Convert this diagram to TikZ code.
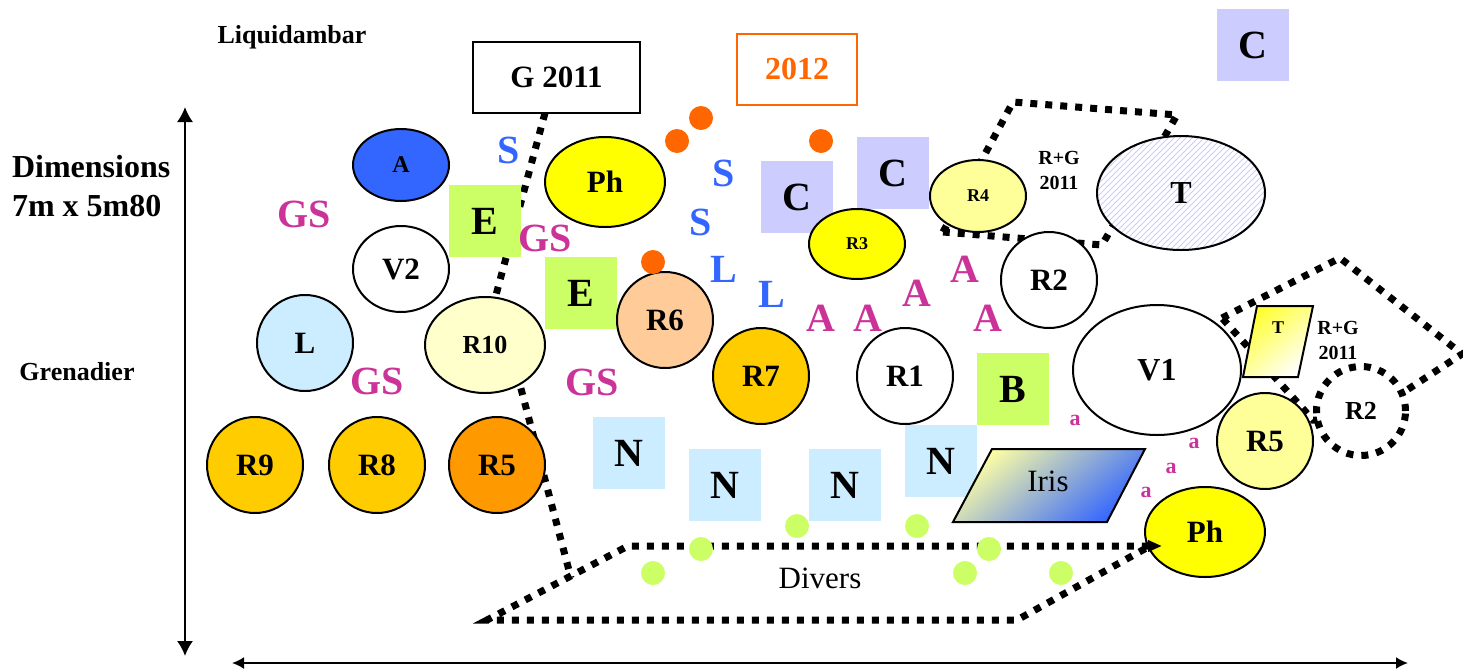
\documentclass[tikz,border=0pt]{standalone}
\usepackage{fontspec}
\setmainfont{Liberation Serif}
\usetikzlibrary{arrows.meta,shapes.geometric,patterns}
\definecolor{skyblue}{HTML}{3366FF}
\definecolor{plum}{HTML}{CC3399}
\definecolor{tangerine}{HTML}{FF6600}
\definecolor{gold}{HTML}{FFCC00}
\definecolor{amber}{HTML}{FF9900}
\definecolor{peach}{HTML}{FFCC99}
\definecolor{cream}{HTML}{FFFFCC}
\definecolor{butter}{HTML}{FFFF99}
\definecolor{lemon}{HTML}{FFFF00}
\definecolor{ice}{HTML}{CCECFF}
\definecolor{lime}{HTML}{CCFF66}
\definecolor{lilac}{HTML}{CCCCFF}
\newcommand{\fsz}[1]{\fontsize{#1}{#1}\selectfont}

\begin{document}
\begin{tikzpicture}[x=0.5pt, y=-0.5pt,
    plant/.style={draw, ellipse, line width=1pt, inner sep=0pt, font=\fsz{15.5}\bfseries},
    roundplant/.style={plant, minimum width=48pt, minimum height=48pt},
    bed/.style={rectangle, minimum size=36pt, inner sep=0pt, font=\fsz{20}\bfseries},
    hedge/.style={line width=3.5pt, dash pattern=on 3.5pt off 4pt},
    berry/.style={circle, fill=tangerine, minimum size=12pt, inner sep=0pt},
    bulb/.style={circle, fill=lime, minimum size=12pt, inner sep=0pt},
    tag/.style={font=\fsz{20}\bfseries},
    small/.style={font=\fsz{11}\bfseries, text=plum},
    note/.style={align=center, font=\fontsize{10}{12.5}\selectfont\bfseries}]
\useasboundingbox (0,0) rectangle (1463,670);

% axes
\node[font=\fsz{13}\bfseries] (liq) at (292,37) {Liquidambar};
\node[anchor=west, align=left, font=\fontsize{16}{19.5}\selectfont\bfseries] (dim) at (5,186) {Dimensions\\7m x 5m80};
\node[font=\fsz{13}\bfseries] (gren) at (77,372) {Grenadier};
\coordinate (vtop) at (185,107);
\coordinate (vbot) at (185,656);
\coordinate (hleft) at (232,663);
\coordinate (hright) at (1408,663);
\draw[line width=0.9pt, {Latex[length=7.5pt,width=8pt]}-{Latex[length=7.5pt,width=8pt]}] (vtop) -- (vbot);
\draw[line width=1pt, {Latex[length=6pt,width=6pt]}-{Latex[length=6pt,width=6pt]}] (hleft) -- (hright);

% hedges behind the plants
\draw[hedge] (545,113) -- (496,295) -- (520,385) -- (571,578);
\draw[hedge] (943,232) -- (1013,102) -- (1177,115) -- (1102,245) -- cycle;
\draw[hedge] (1222,318) -- (1340,258) -- (1462,354) -- (1361,420) -- (1313,420) -- cycle;

% beds
\node[bed, fill=lilac] (c1) at (1253,45) {C};
\node[bed, fill=lilac] (c2) at (797,197) {C};
\node[bed, fill=lilac] (c3) at (893,173) {C};
\node[bed, fill=lime] (e1) at (485,221) {E};
\node[bed, fill=lime] (e2) at (581,293) {E};
\node[bed, fill=lime] (b) at (1013,389) {B};
\node[bed, fill=ice] (n1) at (629,453) {N};
\node[bed, fill=ice] (n2) at (725,485) {N};
\node[bed, fill=ice] (n3) at (845,485) {N};
\node[bed, fill=ice] (n4) at (941,461) {N};

% labels in boxes
\node[draw, line width=1pt, minimum width=83.5pt, minimum height=35.5pt, font=\fsz{15.5}\bfseries] (g2011) at (556.5,77.5) {G 2011};
\node[draw=tangerine, line width=1pt, minimum width=60pt, minimum height=35.5pt, text=tangerine, font=\fsz{16}\bfseries] (y2012) at (797,69.5) {2012};

% plants
\node[plant, fill=skyblue, minimum width=48pt, minimum height=36pt, font=\fsz{12}\bfseries] (a) at (401,165) {A};
\node[plant, fill=white, minimum width=48pt, minimum height=43pt] (v2) at (401,269) {V2};
\node[roundplant, fill=ice] (l) at (305,343) {L};
\node[plant, fill=cream, minimum width=60pt, minimum height=48pt, font=\fsz{13}\bfseries] (r10) at (485,345) {R10};
\node[roundplant, fill=gold] (r9) at (255,465) {R9};
\node[roundplant, fill=gold] (r8) at (377,465) {R8};
\node[roundplant, fill=amber] (r5a) at (497,465) {R5};
\node[plant, fill=lemon, minimum width=60pt, minimum height=45pt] (ph1) at (605,182) {Ph};
\node[roundplant, fill=peach] (r6) at (665,320) {R6};
\node[roundplant, fill=gold] (r7) at (761,376) {R7};
\node[plant, fill=lemon, minimum width=48pt, minimum height=35pt, font=\fsz{9}\bfseries] (r3) at (857,244) {R3};
\node[plant, fill=butter, minimum width=48pt, minimum height=36pt, font=\fsz{9}\bfseries] (r4) at (978,196) {R4};
\node[roundplant, fill=white] (r1) at (905,376) {R1};
\node[roundplant, fill=white] (r2a) at (1049,280) {R2};
\node[plant, preaction={fill=white}, pattern=north east lines, pattern color=lilac, minimum width=84pt, minimum height=57pt, font=\fsz{16}\bfseries] (t) at (1181,193) {T};
\node[plant, fill=white, minimum width=84pt, minimum height=65pt, font=\fsz{16}\bfseries] (v1) at (1157,370) {V1};
\node[roundplant, fill=butter] (r5b) at (1265,441) {R5};
\node[circle, hedge, draw, fill=white, minimum size=44.5pt, inner sep=0pt, font=\fsz{13}\bfseries] (r2b) at (1361,411) {R2};
\node[plant, fill=lemon, minimum width=60pt, minimum height=45pt] (ph2) at (1205,532) {Ph};

% iris and small T
\draw[line width=1pt, top color=butter!90!white, bottom color=skyblue, shading angle=40] (992,449) -- (1145,449) -- (1107,522) -- (953,522) -- cycle;
\node[font=\fsz{15.5}] (iris) at (1048,481) {Iris};
\draw[line width=1pt, top color=lemon!80!white, bottom color=white, shading angle=40] (1257,306) -- (1313,306) -- (1298,377) -- (1243,377) -- cycle;
\node[font=\fsz{9}\bfseries] (tsmall) at (1278,328) {T};
\node[note] (rg1) at (1059,170) {R+G\\2011};
\node[note] (rg2) at (1338,340) {R+G\\2011};

% divers
\draw[hedge, {Triangle[length=7pt,width=5.5pt]}-] (1162,546) -- (628,546) -- (487,620) -- (1017,620) -- (1150,546);
\node[font=\fsz{15.5}] (divers) at (820,578) {Divers};

% dots
\node[berry] (o1) at (677,141) {};
\node[berry] (o2) at (701,118) {};
\node[berry] (o3) at (821,141) {};
\node[berry] (o4) at (653,262) {};
\node[bulb] (g1) at (797,526) {};
\node[bulb] (g2) at (917,526) {};
\node[bulb] (g3) at (701,549) {};
\node[bulb] (g4) at (989,549) {};
\node[bulb] (g5) at (653,573) {};
\node[bulb] (g6) at (965,573) {};
\node[bulb] (g7) at (1061,573) {};

% letters
\node[tag, text=skyblue] (s1) at (509,150) {S};
\node[tag, text=skyblue] (s2) at (724,173) {S};
\node[tag, text=skyblue] (s3) at (701,222) {S};
\node[tag, text=skyblue] (l1) at (724,269) {L};
\node[tag, text=skyblue] (l2) at (772,294) {L};
\node[tag, text=plum] (gs1) at (304,214) {GS};
\node[tag, text=plum] (gs2) at (545,238) {GS};
\node[tag, text=plum] (gs3) at (377,381) {GS};
\node[tag, text=plum] (gs4) at (592,382) {GS};
\node[tag, text=plum] (a1) at (821,318) {A};
\node[tag, text=plum] (a2) at (868,318) {A};
\node[tag, text=plum] (a3) at (917,293) {A};
\node[tag, text=plum] (a4) at (965,269) {A};
\node[tag, text=plum] (a5) at (988,318) {A};
\node[small] (s4) at (1075,420) {a};
\node[small] (s5) at (1194,443) {a};
\node[small] (s6) at (1171,468) {a};
\node[small] (s7) at (1146,492) {a};
\end{tikzpicture}
\end{document}
